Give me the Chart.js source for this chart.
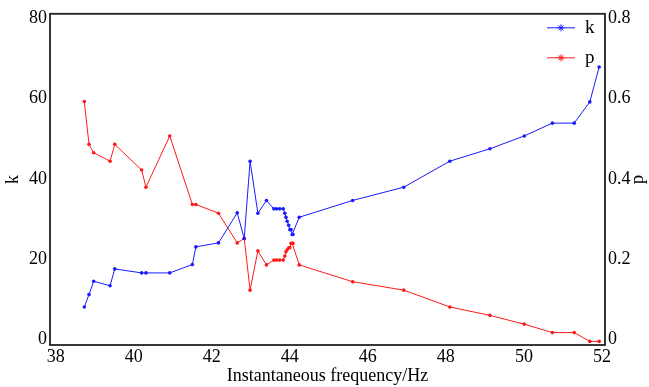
<!DOCTYPE html>
<html>
<head>
<meta charset="utf-8">
<script src="https://cdn.jsdelivr.net/npm/chart.js@4.4.1/dist/chart.umd.min.js"></script>
<style>
  html, body { margin: 0; padding: 0; background: #fff; }
</style>
</head>
<body>
<canvas id="freqChart" width="649" height="387"></canvas>
<script>
// Values
const freq = [38.73, 38.85, 38.97, 39.39, 39.51, 40.20, 40.31, 40.92, 41.50, 41.59,
              42.17, 42.65, 42.83, 42.98, 43.18, 43.40, 43.59, 43.66, 43.74, 43.83,
              43.87, 43.90, 43.93, 43.97, 44.00, 44.03, 44.06, 44.08, 44.24, 45.61,
              46.92, 48.10, 49.13, 50.01, 50.73, 51.29, 51.69, 51.93];
const kValues = [8.0, 11.1, 14.4, 13.3, 17.5, 16.5, 16.5, 16.5, 18.6, 23.0,
                 24.0, 31.5, 25.1, 44.4, 31.4, 34.6, 32.5, 32.5, 32.5, 32.5,
                 31.4, 30.4, 29.4, 28.4, 27.3, 27.3, 26.1, 26.1, 30.4, 34.6,
                 37.9, 44.4, 47.5, 50.7, 53.9, 53.9, 59.2, 67.9];
const pValues = [0.593, 0.486, 0.465, 0.444, 0.486, 0.422, 0.379, 0.507, 0.336, 0.336,
                 0.314, 0.240, 0.251, 0.122, 0.220, 0.185, 0.197, 0.197, 0.197, 0.197,
                 0.207, 0.218, 0.223, 0.228, 0.228, 0.239, 0.239, 0.239, 0.185, 0.143,
                 0.122, 0.080, 0.059, 0.037, 0.016, 0.016, -0.006, -0.006];
const xTicks = [38, 40, 42, 44, 46, 48, 50, 52];
const kTicks = [0, 20, 40, 60, 80];
const pTicks = [0, 0.2, 0.4, 0.6, 0.8];
const seriesNames = ['k', 'p'];

const blue = '#1a1aff';
const red = '#ff1a1a';
const serif = 'Liberation Serif';

// frame round the plot, the legend in the top right corner, the right axis title
const framePlugin = {
    id: 'frame',
    afterDraw(chart) {
        const ctx = chart.ctx;
        const a = chart.chartArea;
        ctx.save();
        ctx.strokeStyle = '#222';
        ctx.lineWidth = 1.8;
        ctx.strokeRect(a.left, a.top, a.right - a.left, a.bottom - a.top);

        chart.data.datasets.forEach((ds, i) => {
            const y = a.top + 14 + i * 30;
            const x0 = a.right - 58, x1 = a.right - 30;
            ctx.strokeStyle = ds.borderColor;
            ctx.lineWidth = 1;
            ctx.beginPath();
            ctx.moveTo(x0, y);
            ctx.lineTo(x1, y);
            // star marker
            const cx = (x0 + x1) / 2, r = 3.5;
            for (let j = 0; j < 4; j++) {
                const ang = j * Math.PI / 4;
                ctx.moveTo(cx - r * Math.cos(ang), y - r * Math.sin(ang));
                ctx.lineTo(cx + r * Math.cos(ang), y + r * Math.sin(ang));
            }
            ctx.stroke();
            ctx.fillStyle = '#000';
            ctx.font = '19px "' + serif + '"';
            ctx.textBaseline = 'middle';
            ctx.fillText(ds.label, a.right - 20, y);
        });

        // right axis title, turned the same way as the left one
        const s = chart.scales.y1;
        ctx.translate(s.right - 11, (a.top + a.bottom) / 2);
        ctx.rotate(-Math.PI / 2);
        ctx.textAlign = 'center';
        ctx.textBaseline = 'middle';
        ctx.font = '19px "' + serif + '"';
        ctx.fillText(seriesNames[1], 0, 0);
        ctx.restore();
    }
};

function toPoints(ys) {
    return freq.map((f, i) => ({ x: f, y: ys[i] }));
}

const tickFont = { family: serif, size: 18 };
const titleFont = { family: serif, size: 18 };

const ctx = document.getElementById('freqChart').getContext('2d');
new Chart(ctx, {
    type: 'line',
    data: {
        datasets: [
            {
                label: seriesNames[0],
                data: toPoints(kValues),
                yAxisID: 'y',
                borderColor: blue,
                backgroundColor: blue,
                borderWidth: 1,
                pointRadius: 1.8,
                pointBorderWidth: 0,
                tension: 0
            },
            {
                label: seriesNames[1],
                data: toPoints(pValues),
                yAxisID: 'y1',
                borderColor: red,
                backgroundColor: red,
                borderWidth: 1,
                pointRadius: 1.8,
                pointBorderWidth: 0,
                tension: 0
            }
        ]
    },
    options: {
        responsive: false,
        animation: false,
        layout: { padding: { top: 10, right: 0, left: 0, bottom: 0 } },
        plugins: {
            legend: { display: false },
            tooltip: { enabled: false }
        },
        scales: {
            x: {
                type: 'linear',
                min: 37.85,
                max: 52.08,
                grid: { display: false, drawTicks: false },
                border: { display: false },
                ticks: { color: '#000', font: tickFont, padding: 1 },
                afterBuildTicks: s => { s.ticks = xTicks.map(v => ({ value: v })); },
                afterFit: s => { s.height = 42; },
                title: {
                    display: true,
                    text: 'Instantaneous frequency/Hz',
                    color: '#000',
                    font: titleFont,
                    padding: 0
                }
            },
            y: {
                position: 'left',
                min: -1.5,
                max: 81.2,
                grid: { display: false, drawTicks: false },
                border: { display: false },
                ticks: { color: '#000', font: tickFont, padding: 3 },
                afterBuildTicks: s => { s.ticks = kTicks.map(v => ({ value: v })); },
                afterFit: s => { s.width = 50; },
                title: {
                    display: true,
                    text: 'k',
                    color: '#000',
                    font: titleFont,
                    padding: 2
                }
            },
            y1: {
                position: 'right',
                min: -0.015,
                max: 0.812,
                grid: { display: false, drawTicks: false },
                border: { display: false },
                ticks: { color: '#000', font: tickFont, padding: 3 },
                afterBuildTicks: s => { s.ticks = pTicks.map(v => ({ value: v })); },
                afterFit: s => { s.width = 44; }
            }
        }
    },
    plugins: [framePlugin]
});
</script>
</body>
</html>
